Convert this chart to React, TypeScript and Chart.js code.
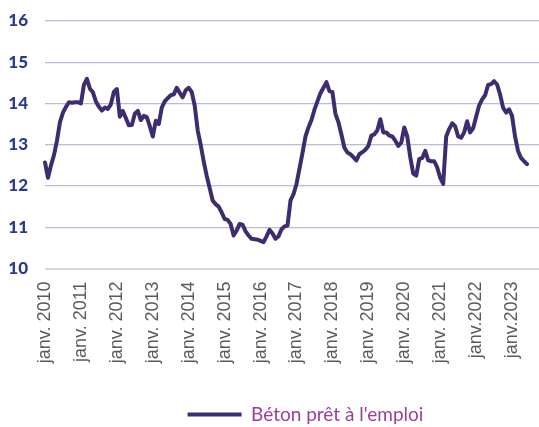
import React, { useEffect, useRef } from 'react';
import { Chart, registerables } from 'chart.js';

Chart.register(...registerables);

const seriesName = "Béton prêt à l'emploi";
const startYear = 2010;
const axisMonthCount = 166;
const yearTickLabels = [
  'janv. 2010', 'janv. 2011', 'janv. 2012', 'janv. 2013', 'janv. 2014',
  'janv. 2015', 'janv. 2016', 'janv. 2017', 'janv. 2018', 'janv. 2019',
  'janv. 2020', 'janv. 2021', 'janv.2022', 'janv.2023',
];
const yMin = 10;
const yMax = 16;

// Monthly values, Jan 2010 – Jun 2023
const values = [
  12.57, 12.2, 12.5, 12.75, 13.1, 13.55, 13.78, 13.92, 14.03, 14.02, 14.03, 14.03,
  14.0, 14.45, 14.6, 14.36, 14.27, 14.05, 13.92, 13.83, 13.9, 13.87, 13.98, 14.28,
  14.35, 13.68, 13.82, 13.65, 13.47, 13.48, 13.75, 13.82, 13.6, 13.7, 13.67, 13.45,
  13.2, 13.58, 13.5, 13.9, 14.05, 14.13, 14.2, 14.22, 14.38, 14.26, 14.15, 14.32,
  14.38, 14.28, 13.95, 13.35, 13.0, 12.6, 12.25, 11.95, 11.65, 11.56, 11.5, 11.36,
  11.2, 11.18, 11.08, 10.8, 10.92, 11.08, 11.06, 10.9, 10.8, 10.72, 10.71, 10.7,
  10.67, 10.64, 10.78, 10.94, 10.85, 10.72, 10.78, 10.95, 11.02, 11.04, 11.65, 11.8,
  12.05, 12.42, 12.8, 13.2, 13.42, 13.6, 13.85, 14.05, 14.25, 14.38, 14.52, 14.3,
  14.28, 13.75, 13.55, 13.25, 12.93, 12.81, 12.77, 12.7, 12.62, 12.77, 12.82, 12.88,
  12.97, 13.22, 13.25, 13.35, 13.62, 13.3, 13.3, 13.22, 13.2, 13.1, 12.97, 13.05,
  13.42, 13.2, 12.7, 12.3, 12.25, 12.65, 12.68, 12.85, 12.62, 12.6, 12.6, 12.45,
  12.2, 12.05, 13.2, 13.38, 13.52, 13.45, 13.2, 13.17, 13.3, 13.57, 13.3, 13.4,
  13.68, 13.95, 14.1, 14.2, 14.45, 14.47, 14.54, 14.46, 14.22, 13.9, 13.78, 13.86,
  13.7, 13.2, 12.85, 12.68, 12.6, 12.53,
];

const categories: string[] = [];
for (let i = 0; i < axisMonthCount; i++) {
  const y = startYear + Math.floor(i / 12);
  const m = (i % 12) + 1;
  categories.push(`${y}-${m < 10 ? '0' + m : m}`);
}

const LINE_COLOR = '#3e2c70';
const GRID_COLOR = '#b5bce0';
const AXIS_COLOR = '#d9d9d9';
const YLABEL_COLOR = '#2c3a8e';
const XLABEL_COLOR = '#5a5a5a';
const LEGEND_COLOR = '#9c3f98';
const LEGEND_DX = 36;
const LEGEND_DY = 7;

const legendShift = {
  id: 'legendShift',
  afterLayout(chart: any) {
    const lg = chart.legend;
    if (!lg) return;
    lg.left += LEGEND_DX;
    lg.right += LEGEND_DX;
    lg.top += LEGEND_DY;
    lg.bottom += LEGEND_DY;
  },
};

export default function App() {
  const canvasRef = useRef<HTMLCanvasElement | null>(null);

  useEffect(() => {
    if (!canvasRef.current) return;
    const chart = new Chart(canvasRef.current, {
      type: 'line',
      data: {
        labels: categories,
        datasets: [
          {
            label: seriesName,
            data: values,
            borderColor: LINE_COLOR,
            backgroundColor: LINE_COLOR,
            borderWidth: 4,
            pointRadius: 0,
            tension: 0,
            borderJoinStyle: 'round',
            borderCapStyle: 'round',
          },
        ],
      },
      plugins: [legendShift],
      options: {
        animation: false,
        responsive: true,
        maintainAspectRatio: false,
        layout: { padding: { top: 21, left: 0, right: 0, bottom: 0 } },
        plugins: {
          tooltip: { enabled: false },
          legend: {
            display: true,
            position: 'bottom',
            labels: {
              boxWidth: 54,
              boxHeight: 4,
              padding: 2,
              color: LEGEND_COLOR,
              font: { family: 'Lato', size: 19 },
              generateLabels: (c: any) =>
                c.data.datasets.map((ds: any, i: number) => ({
                  text: ds.label,
                  fillStyle: LINE_COLOR,
                  strokeStyle: LINE_COLOR,
                  lineWidth: 0,
                  fontColor: LEGEND_COLOR,
                  hidden: false,
                  datasetIndex: i,
                })),
            },
          },
        },
        scales: {
          x: {
            type: 'category',
            offset: false,
            grid: { display: false, drawTicks: false },
            border: { display: false },
            afterFit: (scale: any) => {
              scale.height = 127.5;
              scale.paddingLeft = 0;
              scale.paddingRight = 0;
            },
            ticks: {
              autoSkip: false,
              minRotation: 90,
              maxRotation: 90,
              padding: 13,
              color: XLABEL_COLOR,
              font: { family: 'Liberation Sans', size: 18 },
              callback: (_v: any, idx: number) =>
                idx % 12 === 0 && yearTickLabels[idx / 12] ? yearTickLabels[idx / 12] : '',
            },
          },
          y: {
            min: yMin,
            max: yMax,
            border: { display: false },
            afterFit: (scale: any) => {
              scale.width = 45;
              scale.paddingTop = 0;
              scale.paddingBottom = 0;
            },
            grid: {
              drawTicks: false,
              color: (ctx: any) => (ctx.tick && ctx.tick.value === yMin ? AXIS_COLOR : GRID_COLOR),
              lineWidth: (ctx: any) => (ctx.tick && ctx.tick.value === yMin ? 2 : 1.2),
            },
            ticks: {
              stepSize: 1,
              padding: 17,
              color: YLABEL_COLOR,
              font: { family: 'Lato', size: 17, weight: '900' },
            },
          },
        },
      },
    } as any);
    return () => chart.destroy();
  }, []);

  return (
    <div style={{ position: 'fixed', left: 0, top: 0, width: 539, height: 427, background: '#fff' }}>
      <canvas ref={canvasRef} />
    </div>
  );
}
